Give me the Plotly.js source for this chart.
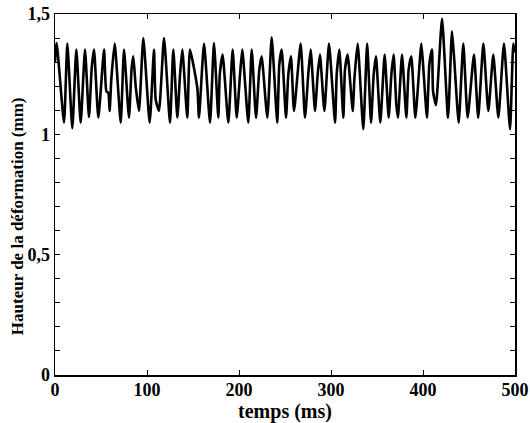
<!DOCTYPE html>
<html>
<head>
<meta charset="utf-8">
<script src="https://cdn.plot.ly/plotly-3.0.1.min.js"></script>
<style>html,body{margin:0;padding:0;background:#fff;}</style>
</head>
<body>
<div id="chart" style="width:530px;height:423px;"></div>
<script>
var timeMs = [0, 1.8, 9.8, 13.4, 18.8, 23.2, 27.9, 32.6, 36.9, 39.9, 42.4, 47.1, 53.3, 55.8, 58.0, 59.4, 61.2, 64.9, 71.4, 75.0, 80.4, 83.3, 85.1, 87.7, 91.3, 96.0, 102.9, 107.6, 109.4, 113.0, 118.5, 125.0, 128.6, 133.0, 135.9, 138.4, 143.8, 146.7, 154.7, 156.5, 162.0, 168.5,
  172.8, 177.5, 179.1, 182.2, 188.4, 193.1, 197.5, 201.1, 203.6, 210.1, 213.8, 218.5, 222.1, 224.6, 230.8, 235.5, 241.6, 243.8, 246.4, 251.1, 253.6, 256.5, 259.8, 267.0, 271.7, 275.4, 277.9, 282.6, 285.5, 288.0, 292.8, 297.8, 304.4, 306.2, 309.1, 313.4, 315.2, 318.1, 323.6, 325.4, 329.0, 335.1,
  339.3, 343.5, 346.4, 348.9, 353.6, 358.3, 362.7, 365.6, 368.1, 371.0, 372.8, 377.2, 381.9, 384.4, 387.3, 391.7, 398.2, 400.7, 404.3, 406.9, 409.8, 410.9, 414.1, 420.7, 427.2, 431.5, 434.1, 438.8, 443.8, 448.5, 455.4, 460.0, 465.6, 471.0, 476.4, 481.9, 488.0, 494.6, 498.2, 500];
var hauteur = [1.30, 1.379, 1.048, 1.377, 1.025, 1.352, 1.048, 1.352, 1.072, 1.276, 1.352, 1.069, 1.352, 1.179, 1.172, 1.097, 1.228, 1.377, 1.048, 1.352, 1.069, 1.276, 1.324, 1.200, 1.097, 1.400, 1.048, 1.352, 1.145, 1.097, 1.400, 1.048, 1.352, 1.069, 1.248, 1.352, 1.069, 1.352, 1.193, 1.069, 1.377, 1.048,
  1.379, 1.069, 1.248, 1.331, 1.048, 1.352, 1.069, 1.248, 1.352, 1.048, 1.352, 1.069, 1.269, 1.324, 1.069, 1.403, 1.048, 1.290, 1.352, 1.069, 1.248, 1.324, 1.097, 1.377, 1.069, 1.255, 1.352, 1.097, 1.248, 1.331, 1.097, 1.377, 1.048, 1.248, 1.352, 1.069, 1.269, 1.331, 1.097, 1.228, 1.377, 1.021,
  1.377, 1.048, 1.248, 1.324, 1.048, 1.331, 1.069, 1.248, 1.331, 1.124, 1.069, 1.331, 1.069, 1.269, 1.324, 1.069, 1.377, 1.255, 1.069, 1.290, 1.352, 1.179, 1.121, 1.480, 1.069, 1.428, 1.303, 1.048, 1.377, 1.069, 1.331, 1.069, 1.377, 1.097, 1.331, 1.069, 1.377, 1.021, 1.377, 1.34];

var xTickVals = [0, 100, 200, 300, 400, 500];
var xTickText = ['0', '100', '200', '300', '400', '500'];
var yTickVals = [0, 0.1, 0.2, 0.3, 0.4, 0.5, 0.6, 0.7, 0.8, 0.9, 1.0, 1.1, 1.2, 1.3, 1.4, 1.5];
var yTickText = ['0', '', '', '', '', '0,5', '', '', '', '', '1', '', '', '', '', '1,5'];
var xTitle = 'temps (ms)';
var yTitle = 'Hauteur de la déformation (mm)';

var fontFam = '"Liberation Serif", "Times New Roman", serif';

var trace = {
  x: timeMs, y: hauteur, type: 'scatter', mode: 'lines',
  line: {color: '#000', width: 2.6, shape: 'spline', smoothing: 0.5}, hoverinfo: 'skip'
};

var layout = {
  width: 530, height: 423,
  margin: {l: 55, r: 15, t: 14, b: 48},
  paper_bgcolor: '#fff', plot_bgcolor: '#fff',
  showlegend: false,
  font: {family: fontFam, color: '#000', size: 17, weight: 'bold'},
  xaxis: {
    range: [0, 500], tickvals: xTickVals, ticktext: xTickText,
    ticks: 'inside', ticklen: 5, tickwidth: 1, tickcolor: '#000',
    showline: true, linecolor: '#000', linewidth: 1.5, mirror: 'ticks',
    showgrid: false, zeroline: false, ticklabelstandoff: -2,
    tickfont: {family: fontFam, size: 18, weight: 'bold', color: '#000'},
    title: {text: xTitle, font: {family: fontFam, size: 20, weight: 'bold', color: '#000'}, standoff: 0}
  },
  yaxis: {
    range: [0, 1.5], tickvals: yTickVals, ticktext: yTickText,
    ticks: 'inside', ticklen: 5, tickwidth: 1, tickcolor: '#000',
    showline: true, linecolor: '#000', linewidth: 1.5, mirror: 'ticks',
    showgrid: false, zeroline: false,
    tickfont: {family: fontFam, size: 18, weight: 'bold', color: '#000'}
  },
  annotations: [{
    text: yTitle, xref: 'paper', yref: 'paper', x: -0.0826, y: 0.44,
    xanchor: 'center', yanchor: 'middle', textangle: -90, showarrow: false,
    font: {family: fontFam, size: 17, weight: 'bold', color: '#000'}
  }]
};

Plotly.newPlot('chart', [trace], layout, {displayModeBar: false, staticPlot: true});
</script>
</body>
</html>
